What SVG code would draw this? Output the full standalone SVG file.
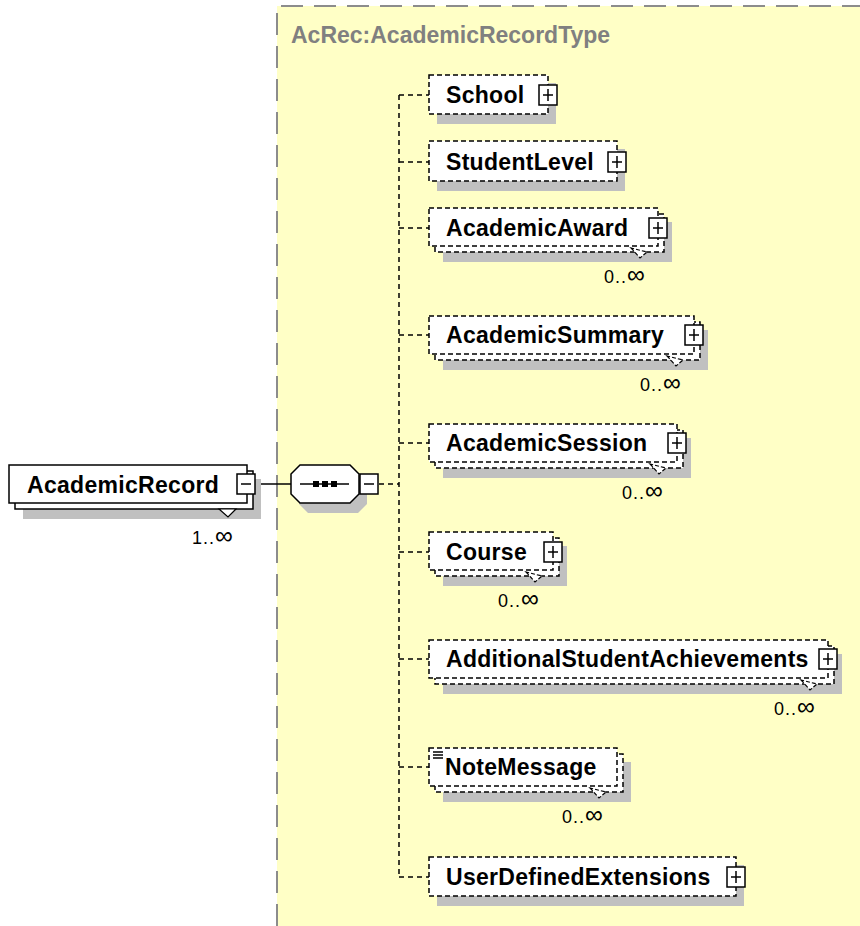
<svg xmlns="http://www.w3.org/2000/svg" width="860" height="926" viewBox="0 0 860 926">
<defs>
<style>
.bg{fill:#ffffc6}
.frame{fill:none;stroke:#8c8c8c;stroke-width:2;stroke-dasharray:22 11}
.sh{fill:#c0c0c0}
.box{fill:#fff;stroke:#000;stroke-width:1.5;stroke-dasharray:5 3}
.sbox{fill:#fff;stroke:#000;stroke-width:1.5}
.name{font-family:"Liberation Sans",Arial,sans-serif;font-weight:bold;font-size:23px;letter-spacing:0.3px;fill:#000}
.title{font-family:"Liberation Sans",Arial,sans-serif;font-weight:bold;font-size:23px;fill:#808080}
.occ{font-family:"Liberation Sans",Arial,sans-serif;font-size:18px;letter-spacing:1px;fill:#000}
.inf{font-size:25px}
.pm{fill:#fff;stroke:#000;stroke-width:1.5}
.pl{stroke:#000;stroke-width:1.5}
.dl{fill:none;stroke:#000;stroke-width:1.5;stroke-dasharray:5 4}
.sl{fill:none;stroke:#000;stroke-width:1.5}
.notch{fill:#fff;stroke:#000;stroke-width:1.2;stroke-dasharray:4 2}
</style>
<g id="plus"><rect class="pm" x="-9" y="-10" width="18" height="20"/><line class="pl" x1="-5" y1="0" x2="5" y2="0"/><line class="pl" x1="0" y1="-6" x2="0" y2="6"/></g>
<g id="minus"><rect class="pm" x="-9" y="-10" width="18" height="20"/><line class="pl" x1="-5" y1="0" x2="5" y2="0"/></g>
</defs>

<rect class="bg" x="277" y="6" width="590" height="930"/>
<path class="frame" d="M277,926 V6 H860"/>
<text class="title" x="291" y="43">AcRec:AcademicRecordType</text>

<g id="connectors">
<line class="sl" x1="256" y1="484" x2="291" y2="484"/>
<line class="dl" x1="379" y1="484" x2="399" y2="484"/>
<line class="dl" x1="399" y1="95" x2="399" y2="877"/>
<line class="dl" x1="399" y1="95" x2="429" y2="95"/>
<line class="dl" x1="399" y1="162" x2="429" y2="162"/>
<line class="dl" x1="399" y1="228" x2="429" y2="228"/>
<line class="dl" x1="399" y1="335" x2="429" y2="335"/>
<line class="dl" x1="399" y1="443" x2="429" y2="443"/>
<line class="dl" x1="399" y1="552" x2="429" y2="552"/>
<line class="dl" x1="399" y1="659" x2="429" y2="659"/>
<line class="dl" x1="399" y1="767" x2="429" y2="767"/>
<line class="dl" x1="399" y1="877" x2="429" y2="877"/>
</g>

<g id="AcademicRecord">
<rect class="sh" x="23" y="479" width="238" height="40"/>
<rect class="sbox" x="15" y="471" width="238" height="38"/>
<rect class="sbox" x="9" y="465" width="238" height="38"/>
<polygon points="219,509 228,517 236,509" fill="#fff" stroke="#000" stroke-width="1.2"/>
<text class="name" x="27" y="493">AcademicRecord</text>
<use href="#minus" x="246" y="484"/>
<text class="occ" x="192" y="544">1..<tspan class="inf">∞</tspan></text>
</g>

<g id="sequence">
<polygon class="sh" points="308,475 358,475 367,484 367,504 358,513 308,513 299,504 299,484"/>
<polygon class="sbox" points="300,465 350,465 359,474 359,494 350,503 300,503 291,494 291,474"/>
<line class="sl" x1="300" y1="484" x2="349" y2="484"/>
<rect x="313" y="481" width="6" height="6" fill="#000"/>
<rect x="322" y="481" width="6" height="6" fill="#000"/>
<rect x="331" y="481" width="6" height="6" fill="#000"/>
<use href="#minus" x="369" y="484"/>
</g>

<g id="School">
<rect class="sh" x="437" y="83" width="119" height="41"/>
<rect class="box" x="429" y="75" width="119" height="39"/>
<text class="name" x="446" y="103">School</text>
<use href="#plus" x="548" y="95"/>
</g>

<g id="StudentLevel">
<rect class="sh" x="437" y="149" width="188" height="42"/>
<rect class="box" x="429" y="141" width="188" height="40"/>
<text class="name" x="446" y="170">StudentLevel</text>
<use href="#plus" x="617" y="162"/>
</g>

<g id="AcademicAward">
<rect class="sh" x="443" y="222" width="229" height="40"/>
<rect class="box" x="435" y="214" width="229" height="38"/>
<rect class="box" x="429" y="208" width="229" height="38"/>
<polygon class="notch" points="631,248 640,258 647,252"/>
<text class="name" x="446" y="236">AcademicAward</text>
<use href="#plus" x="658" y="228"/>
<text class="occ" x="604" y="283">0..<tspan class="inf">∞</tspan></text>
</g>

<g id="AcademicSummary">
<rect class="sh" x="443" y="330" width="265" height="40"/>
<rect class="box" x="435" y="322" width="265" height="38"/>
<rect class="box" x="429" y="316" width="265" height="38"/>
<polygon class="notch" points="667,356 676,366 683,360"/>
<text class="name" x="446" y="343">AcademicSummary</text>
<use href="#plus" x="694" y="335"/>
<text class="occ" x="640" y="391">0..<tspan class="inf">∞</tspan></text>
</g>

<g id="AcademicSession">
<rect class="sh" x="443" y="438" width="248" height="40"/>
<rect class="box" x="435" y="430" width="248" height="38"/>
<rect class="box" x="429" y="424" width="248" height="38"/>
<polygon class="notch" points="650,464 659,474 666,468"/>
<text class="name" x="446" y="451">AcademicSession</text>
<use href="#plus" x="677" y="443"/>
<text class="occ" x="622" y="499">0..<tspan class="inf">∞</tspan></text>
</g>

<g id="Course">
<rect class="sh" x="443" y="546" width="124" height="40"/>
<rect class="box" x="435" y="538" width="124" height="38"/>
<rect class="box" x="429" y="532" width="124" height="38"/>
<polygon class="notch" points="526,572 535,582 542,576"/>
<text class="name" x="446" y="560">Course</text>
<use href="#plus" x="553" y="552"/>
<text class="occ" x="498" y="607">0..<tspan class="inf">∞</tspan></text>
</g>

<g id="AdditionalStudentAchievements">
<rect class="sh" x="443" y="654" width="399" height="40"/>
<rect class="box" x="435" y="646" width="399" height="38"/>
<rect class="box" x="429" y="640" width="399" height="38"/>
<polygon class="notch" points="801,680 810,690 817,684"/>
<text class="name" x="446" y="667">AdditionalStudentAchievements</text>
<use href="#plus" x="828" y="659"/>
<text class="occ" x="774" y="715">0..<tspan class="inf">∞</tspan></text>
</g>

<g id="NoteMessage">
<rect class="sh" x="443" y="762" width="188" height="40"/>
<rect class="box" x="435" y="754" width="188" height="38"/>
<rect class="box" x="429" y="748" width="188" height="38"/>
<polygon class="notch" points="590,788 599,798 606,792"/>
<line class="sl" x1="433" y1="752" x2="443" y2="752" stroke-width="1"/>
<line class="sl" x1="433" y1="755" x2="443" y2="755" stroke-width="1"/>
<line class="sl" x1="433" y1="758" x2="443" y2="758" stroke-width="1"/>
<text class="name" x="445" y="775">NoteMessage</text>
<text class="occ" x="562" y="823">0..<tspan class="inf">∞</tspan></text>
</g>

<g id="UserDefinedExtensions">
<rect class="sh" x="437" y="865" width="307" height="41"/>
<rect class="box" x="429" y="857" width="307" height="39"/>
<text class="name" x="446" y="885">UserDefinedExtensions</text>
<use href="#plus" x="736" y="877"/>
</g>
</svg>
